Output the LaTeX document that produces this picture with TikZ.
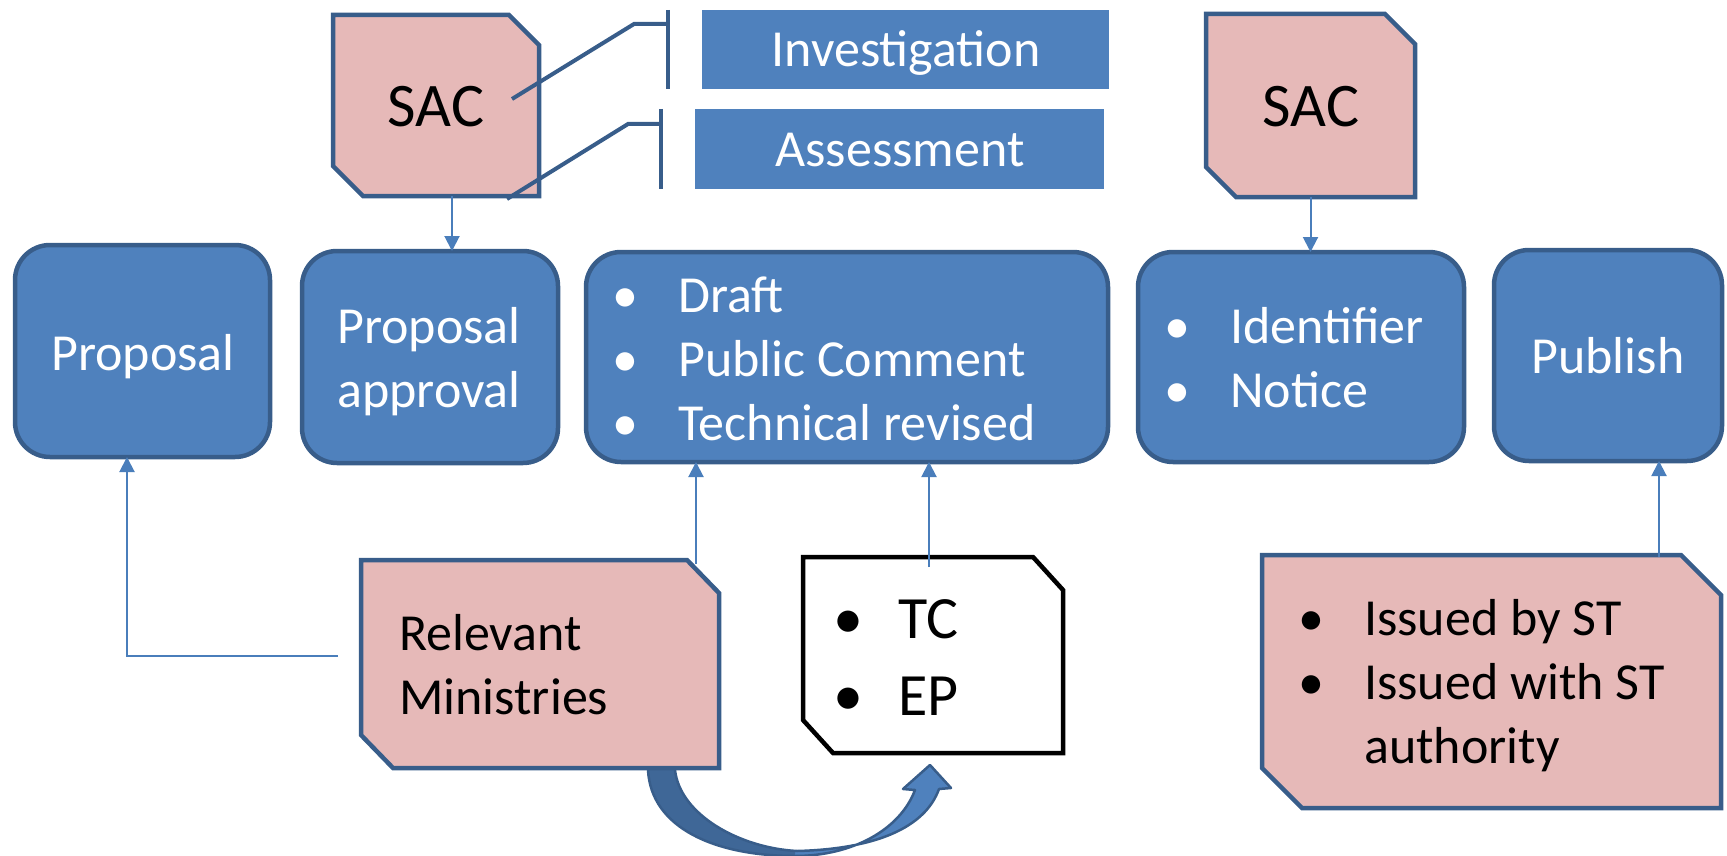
\documentclass[tikz,border=0pt]{standalone}
\usepackage{fontspec}
\setmainfont{Carlito}
\usetikzlibrary{arrows.meta,calc}
\definecolor{bfill}{HTML}{4F81BD}
\definecolor{bline}{HTML}{385D8A}
\definecolor{pfill}{HTML}{E6B9B8}
\definecolor{connc}{HTML}{4A7EBB}
\definecolor{darkarrow}{HTML}{3F6797}
\newcommand\chamfpath[5]{%
  \path[#2] (#1.north west) -- ([xshift=-#3pt]#1.north east) -- ([yshift=-#4pt]#1.north east)
    -- (#1.south east) -- ([xshift=#5pt]#1.south west) -- ([yshift=#4pt]#1.south west) -- cycle;}
\newcommand\bentarrowpath{(648,760) -- (648,770) .. controls (651,828) and (715,856) .. (795,856)
  .. controls (852,856) and (900,830) .. (915,790) -- (903,789) -- (930,765) -- (951,788) -- (939,789)
  .. controls (925,828) and (875,849) .. (797,851) .. controls (740,848) and (680,815) .. (675,770) -- (675,760)}
\begin{document}
\begin{tikzpicture}[x=1pt,y=-1pt,
  rbox/.style={draw=bline, fill=bfill, line width=4.5pt, rounded corners=35pt, inner sep=0pt, outer sep=0pt},
  flat/.style={fill=bfill, inner sep=0pt, outer sep=0pt},
  anch/.style={inner sep=0pt, outer sep=0pt},
  pinkline/.style={draw=bline, fill=pfill, line width=4.5pt, line join=miter},
  whiteline/.style={draw=black, fill=white, line width=4.5pt, line join=miter},
  wtxt/.style={text=white, inner sep=0pt, font=\fontsize{52}{64}\selectfont},
  ktxt/.style={text=black, inner sep=0pt, font=\fontsize{52}{64}\selectfont},
  conn/.style={draw=connc, line width=2pt, -{Triangle[width=15pt,length=15pt]}},
  brk/.style={draw=bline, line width=4pt}
]
\useasboundingbox (0,0) rectangle (1727,856);

% curved arrow
\path[fill=bfill] \bentarrowpath -- cycle;
\begin{scope}
\clip (600,700) rectangle (795,860);
\path[fill=darkarrow] \bentarrowpath -- cycle;
\end{scope}
\path[draw=bline, line width=2.5pt, line join=round] \bentarrowpath;

% rounded blue boxes
\node[rbox, minimum width=255pt, minimum height=212pt] (prop) at (142.5,351) {};
\node[rbox, minimum width=256pt, minimum height=212pt] (pa) at (430,357) {};
\node[rbox, minimum width=522pt, minimum height=210pt] (draft) at (847,357) {};
\node[rbox, minimum width=326pt, minimum height=210pt] (ident) at (1301,357) {};
\node[rbox, minimum width=228pt, minimum height=211pt] (pub) at (1608,355.5) {};

% flat blue rectangles
\node[flat, minimum width=407pt, minimum height=79pt] (inv) at (905.5,49.5) {};
\node[flat, minimum width=409pt, minimum height=80pt] (ass) at (899.5,149) {};

% chamfered boxes (anchors)
\node[anch, minimum width=206pt, minimum height=181pt] (sac1) at (436,105.5) {};
\node[anch, minimum width=209pt, minimum height=183pt] (sac2) at (1310.5,105.5) {};
\node[anch, minimum width=358pt, minimum height=208pt] (rel) at (540,664) {};
\node[anch, minimum width=260pt, minimum height=196pt] (tc) at (933,655) {};
\node[anch, minimum width=459pt, minimum height=253pt] (iss) at (1491.5,681.5) {};
\chamfpath{sac1}{pinkline}{30}{30}{30}
\chamfpath{sac2}{pinkline}{30}{30}{30}
\chamfpath{rel}{pinkline}{32}{33}{32}
\chamfpath{tc}{whiteline}{30}{33}{30}
\chamfpath{iss}{pinkline}{40}{40}{40}

% brackets
\coordinate (b1) at (512,99);
\coordinate (b2) at (507,199);
\draw[brk] (b1) -- (634,24) -- ([xshift=-34pt]inv.west |- 0,24);
\draw[brk] ([xshift=-34pt]inv.north west) -- ([xshift=-34pt]inv.south west);
\draw[brk] (b2) -- (628,124) -- ([xshift=-34pt]ass.west |- 0,124);
\draw[brk] ([xshift=-34pt]ass.north west) -- ([xshift=-34pt]ass.south west);

% connectors
\draw[conn] ([xshift=16pt]sac1.south) -- ([xshift=16pt]sac1.south |- pa.north);
\draw[conn] (sac2.south) -- (sac2.south |- ident.north);
\draw[conn] ([xshift=156pt,yshift=-4pt]rel.north) -- ([xshift=156pt]rel.north |- draft.south);
\draw[conn] ([xshift=-4pt,yshift=-10pt]tc.north) -- ([xshift=-4pt]tc.north |- draft.south);
\draw[conn] ([xshift=167.5pt,yshift=-2pt]iss.north) -- ([xshift=167.5pt]iss.north |- pub.south);
\coordinate (relfree) at (338,656);
\draw[conn] (relfree) -| ([xshift=-15.5pt]prop.south);

% texts
\node[ktxt, anchor=base, font=\fontsize{62}{74}\selectfont] (tsac1) at (436,127) {SAC};
\node[ktxt, anchor=base, font=\fontsize{62}{74}\selectfont] (tsac2) at (1311,127) {SAC};
\node[wtxt, anchor=base] (tinv) at (906,67) {Investigation};
\node[wtxt, anchor=base] (tass) at (900,167) {Assessment};
\node[wtxt, anchor=base] (tprop) at (143,370) {Proposal};
\node[wtxt, anchor=base] (tpa1) at (429,343) {Proposal};
\node[wtxt, anchor=base] (tpa2) at (429,407) {approval};
\foreach \y/\t [count=\i] in {312/Draft,376/Public Comment,440/Technical revised}{
  \node[wtxt, anchor=base] (db\i) at (625,\y) {•};
  \node[wtxt, anchor=base west] (dt\i) at (678,\y) {\t};
}
\foreach \y/\t [count=\i] in {343/Identifier,407/Notice}{
  \node[wtxt, anchor=base] (ib\i) at (1177,\y) {•};
  \node[wtxt, anchor=base west] (it\i) at (1230,\y) {\t};
}
\node[wtxt, anchor=base] (tpub) at (1608,373) {Publish};
\node[ktxt, anchor=base west] (trel1) at (399,650) {Relevant};
\node[ktxt, anchor=base west] (trel2) at (399,714) {Ministries};
\foreach \y/\t [count=\i] in {638/TC,715/EP}{
  \node[ktxt, anchor=base, font=\fontsize{60}{74}\selectfont] (tb\i) at (848,\y) {•};
  \node[ktxt, anchor=base west, font=\fontsize{60}{74}\selectfont] (tt\i) at (898,\y) {\t};
}
\node[ktxt, anchor=base] (sb1) at (1311,635) {•};
\node[ktxt, anchor=base west] (st1) at (1364,635) {Issued by ST};
\node[ktxt, anchor=base] (sb2) at (1311,699) {•};
\node[ktxt, anchor=base west] (st2) at (1364,699) {Issued with ST};
\node[ktxt, anchor=base west] (st3) at (1364,763) {authority};
\end{tikzpicture}
\end{document}
